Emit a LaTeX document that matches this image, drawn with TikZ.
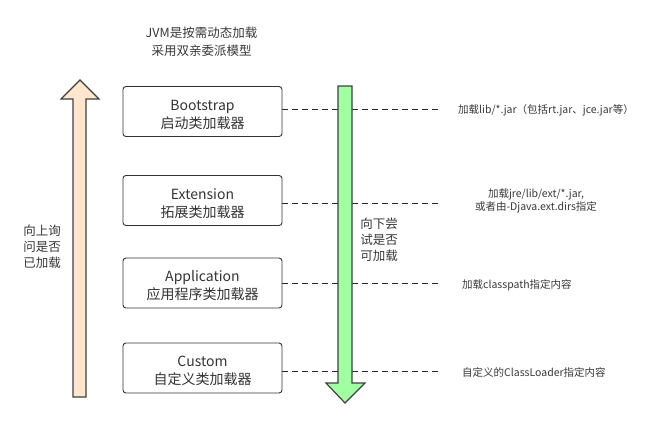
\documentclass[tikz,border=0pt]{standalone}
\usepackage{fontspec}
\setmainfont{Noto Sans CJK SC}
\begin{document}
\begin{tikzpicture}[x=1pt,y=-1pt,
  txt/.style={text=black!78, inner sep=0pt},
  loader/.style={draw=black!80, line width=0.9pt, rounded corners=3pt, minimum width=159pt, minimum height=50pt, inner sep=0pt},
  loadertext/.style={txt, align=center, text=black!80, font=\fontsize{14}{18}\selectfont, yshift=-3pt},
  note/.style={txt, font=\fontsize{10.5}{13}\selectfont, align=center},
  side/.style={txt, font=\fontsize{12.5}{16}\selectfont, align=left},
  dashline/.style={draw=black!85, line width=0.9pt, dash pattern=on 6pt off 4pt},
  bigarrow/.style={draw=black!75, line width=1.2pt, line join=miter}
]
\useasboundingbox (0,0) rectangle (668,421);

% title
\node[txt, font=\fontsize{12.5}{18}\selectfont, align=center] (title) at (201.5,42) {JVM是按需动态加载\\采用双亲委派模型};

% loader boxes
\node[loader] (boot) at (202.5,111.5) {};
\node[loader] (ext)  at (202.5,200.5) {};
\node[loader] (app)  at (202.5,283)   {};
\node[loader] (cust) at (202.5,368)   {};
\node[loadertext] (boot-t) at (boot) {Bootstrap\\启动类加载器};
\node[loadertext] (ext-t)  at (ext)  {Extension\\拓展类加载器};
\node[loadertext] (app-t)  at (app)  {Application\\应用程序类加载器};
\node[loadertext] (cust-t) at (cust) {Custom\\自定义类加载器};

% dashed line end points
\coordinate (e1) at (440,109);
\coordinate (e2) at (440,203);
\coordinate (e3) at (440,283);
\coordinate (e4) at (442,371);

\draw[dashline] (boot.east |- e1) -- (e1);
\draw[dashline] (ext.east |- e2) -- (e2);
\draw[dashline] (app.east |- e3) -- (e3);
\draw[dashline] (cust.east |- e4) -- (e4);

% notes
\node[note, anchor=west] (n1) at (458,110) {加载lib/*.jar（包括rt.jar、jce.jar等）};
\node[note] (n2) at (536,200.5) {加载jre/lib/ext/*.jar,\\或者由-Djava.ext.dirs指定};
\node[note, anchor=west] (n3) at (462,285.5) {加载classpath指定内容};
\node[note, anchor=west] (n4) at (462,372.5) {自定义的ClassLoader指定内容};

% orange up arrow
\filldraw[bigarrow, fill={rgb,255:red,255;green,230;blue,204}]
  (73,397) -- (73,99) -- (61,99) -- (80,80) -- (99,99) -- (86,99) -- (86,397) -- cycle;

% green down arrow
\filldraw[bigarrow, fill={rgb,255:red,160;green,255;blue,160}]
  (338,86) -- (352,86) -- (352,383) -- (365,383) -- (345,403) -- (326,383) -- (338,383) -- cycle;

% side texts
\node[side] (up) at (42,247) {向上询\\问是否\\已加载};
\node[side] (down) at (379,240) {向下尝\\试是否\\可加载};
\end{tikzpicture}
\end{document}
